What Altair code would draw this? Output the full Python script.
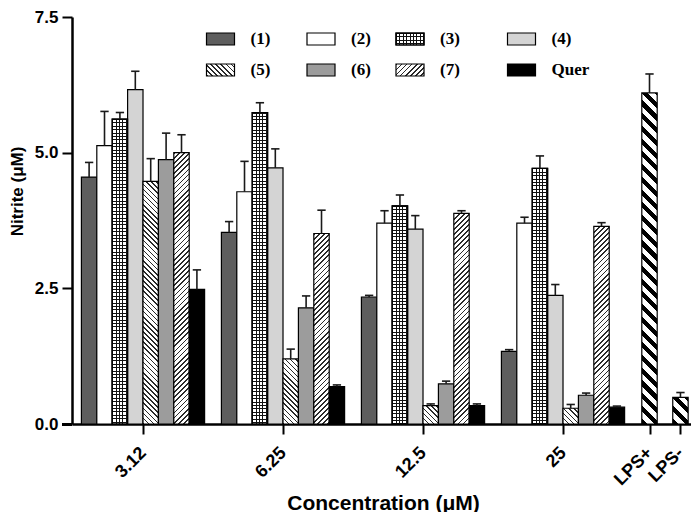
import math
import altair as alt

# ---------------- data ----------------
categories = ["3.12", "6.25", "12.5", "25"]
series_names = ["(1)", "(2)", "(3)", "(4)", "(5)", "(6)", "(7)", "Quer"]

c1 = [4.55, 3.53, 2.34, 1.34]
c1_err = [0.27, 0.20, 0.03, 0.03]
c2 = [5.13, 4.28, 3.70, 3.70]
c2_err = [0.63, 0.56, 0.23, 0.11]
c3 = [5.62, 5.74, 4.02, 4.71]
c3_err = [0.12, 0.18, 0.20, 0.23]
c4 = [6.16, 4.72, 3.59, 2.37]
c4_err = [0.34, 0.35, 0.25, 0.20]
c5 = [4.47, 1.20, 0.34, 0.29]
c5_err = [0.42, 0.18, 0.03, 0.07]
c6 = [4.87, 2.14, 0.74, 0.53]
c6_err = [0.49, 0.22, 0.05, 0.04]
c7 = [5.00, 3.51, 3.88, 3.64]
c7_err = [0.33, 0.43, 0.05, 0.07]
quer = [2.48, 0.69, 0.34, 0.31]
quer_err = [0.36, 0.03, 0.03, 0.02]

controls = ["LPS+", "LPS-"]
control_values = [6.10, 0.49]
control_err = [0.35, 0.09]

series_values = [c1, c2, c3, c4, c5, c6, c7, quer]
series_errors = [c1_err, c2_err, c3_err, c4_err, c5_err, c6_err, c7_err, quer_err]

# ---------------- layout / style ----------------
PAD_LEFT = 64
W, H = 683 - PAD_LEFT, 407
PAD_TOP = 9
BAR_PX = 15.4
Y_MAX = 7.5
PX_PER_VAL = H / Y_MAX
X_MAX = W / BAR_PX
GROUP_START = 4.611
GROUP_STEP = 9.091
CONTROL_POS = [37.50, 39.51]
CAP_HALF = 0.27
LEGEND_COL_PX = [148.5, 249, 338, 449.5]      # swatch centres, from plot left
LEGEND_ROW_PX = [39 - 8 - PAD_TOP, 70 - 8 - PAD_TOP]  # from plot top

SANS = "Liberation Sans"
SERIF = "Liberation Serif"

kinds = {"(1)": "#5e5e5e", "(2)": "#ffffff", "(3)": "checker", "(4)": "#d4d4d4",
         "(5)": "back", "(6)": "#9c9c9c", "(7)": "fwd", "Quer": "#000000"}
CLEAR = "rgba(255,255,255,0)"


def stripe_stops(total, period, line, ink, paper):
    stops = []
    k = 0
    while k * period < total:
        o0 = k * period / total
        o1 = min((k * period + line) / total, 1.0)
        o2 = min((k + 1) * period / total, 1.0)
        stops += [{"offset": round(o0, 5), "color": ink},
                  {"offset": round(o1, 5), "color": ink},
                  {"offset": round(o1, 5), "color": paper},
                  {"offset": round(o2, 5), "color": paper}]
        k += 1
    return stops


def diagonal(w, h, direction, period, line, ink):
    s = w + h
    n2 = w * w + h * h
    a = w * s / n2
    b = h * s / n2
    if direction == "fwd":
        x1, y1, x2, y2 = 0, 0, a, b
    else:
        x1, y1, x2, y2 = 0, 1, a, 1 - b
    D = s / math.sqrt(2)
    return {"gradient": "linear", "x1": x1, "y1": y1, "x2": round(x2, 5), "y2": round(y2, 5),
            "stops": stripe_stops(D, period, line, ink, "#ffffff")}


def make_fill(kind, w, h):
    """returns (base fill, overlay fill or transparent)"""
    if kind == "checker":
        base = {"gradient": "linear", "x1": 0, "y1": 0, "x2": 0, "y2": 1,
                "stops": stripe_stops(h, 3.4, 1.05, "#111111", "#ffffff")}
        over = {"gradient": "linear", "x1": 0, "y1": 0, "x2": 1, "y2": 0,
                "stops": stripe_stops(w, 3.4, 1.05, "#111111", CLEAR)}
        return base, over
    if kind == "back":
        return diagonal(w, h, "back", 3.6, 1.2, "#2a2a2a"), CLEAR
    if kind == "fwd":
        return diagonal(w, h, "fwd", 3.6, 1.2, "#2a2a2a"), CLEAR
    if kind == "lps":
        return diagonal(w, h, "back", 9.0, 4.3, "#000000"), CLEAR
    return kind, CLEAR


# ---------------- build table ----------------
rows = []
tick_pos = []
tick_lab = []
for g, cat in enumerate(categories):
    center = round(GROUP_START + GROUP_STEP * g, 3)
    tick_pos.append(center)
    tick_lab.append(cat)
    for i, name in enumerate(series_names):
        v = series_values[i][g]
        e = series_errors[i][g]
        left = center - 4 + i
        f, f2 = make_fill(kinds[name], BAR_PX, v * PX_PER_VAL)
        rows.append({"series": name, "x": left, "x2": left + 1, "cx": left + 0.5,
                     "cl": left + 0.5 - CAP_HALF, "cr": left + 0.5 + CAP_HALF,
                     "y": v, "top": v + e, "fill": f, "fill2": f2})
for j, name in enumerate(controls):
    center = CONTROL_POS[j]
    tick_pos.append(center)
    tick_lab.append(name)
    v = control_values[j]
    e = control_err[j]
    f, f2 = make_fill("lps", BAR_PX, v * PX_PER_VAL)
    rows.append({"series": name, "x": center - 0.5, "x2": center + 0.5, "cx": center,
                 "cl": center - CAP_HALF, "cr": center + CAP_HALF,
                 "y": v, "top": v + e, "fill": f, "fill2": f2})

data = alt.Data(values=rows)

label_expr = "[" + ",".join("'" + t + "'" for t in tick_lab) + "][indexof([" + \
    ",".join(repr(p) for p in tick_pos) + "], datum.value)]"

x_scale = alt.Scale(domain=[0, X_MAX], nice=False, zero=False)
y_scale = alt.Scale(domain=[0, Y_MAX], nice=False, zero=True)

x_axis = alt.Axis(values=tick_pos, labelExpr=label_expr, labelAngle=-45,
                  labelAlign="right", labelBaseline="middle", labelPadding=16,
                  labelOverlap=False, labelBound=False,
                  labelFont=SANS, labelFontWeight="bold", labelFontSize=18, labelColor="black",
                  tickSize=10, tickWidth=2, tickColor="black",
                  domainColor="black", domainWidth=2.5, grid=False,
                  title="Concentration (μM)", titleFont=SANS, titleFontWeight="bold",
                  titleFontSize=21, titleColor="black", titleBaseline="alphabetic",
                  titleY=85, titleX=311)
y_axis = alt.Axis(values=[0, 2.5, 5, 7.5], format=".1f",
                  labelFont=SANS, labelFontWeight="bold", labelFontSize=17, labelColor="black",
                  labelPadding=4, tickSize=10, tickWidth=2, tickColor="black",
                  domainColor="black", domainWidth=2.5, grid=False,
                  title="Nitrite (μM)", titleFont=SANS, titleFontWeight="bold",
                  titleFontSize=17, titleColor="black", titlePadding=8, titleY=174)

base = alt.Chart(data)

bars = base.mark_bar(stroke="black", strokeWidth=1.2).encode(
    x=alt.X("x:Q", scale=x_scale, axis=x_axis),
    x2="x2:Q",
    y=alt.Y("y:Q", scale=y_scale, axis=y_axis),
    y2=alt.datum(0),
    fill=alt.Fill("fill:N", scale=None),
)
overlay = base.mark_bar(stroke="black", strokeWidth=1.2).encode(
    x=alt.X("x:Q", scale=x_scale, axis=x_axis),
    x2="x2:Q",
    y=alt.Y("y:Q", scale=y_scale, axis=y_axis),
    y2=alt.datum(0),
    fill=alt.Fill("fill2:N", scale=None),
).transform_filter(alt.datum.series == "(3)")
stems = base.mark_rule(color="#1a1a1a", strokeWidth=1.6).encode(
    x=alt.X("cx:Q", scale=x_scale, axis=x_axis),
    y=alt.Y("y:Q", scale=y_scale, axis=y_axis),
    y2="top:Q",
)
caps = base.mark_rule(color="#1a1a1a", strokeWidth=1.6).encode(
    x=alt.X("cl:Q", scale=x_scale, axis=x_axis),
    x2="cr:Q",
    y=alt.Y("top:Q", scale=y_scale, axis=y_axis),
)
# short stub of the x-axis line reaching left of the y-axis (GraphPad style)
stub = base.mark_rule(color="black", strokeWidth=2.5).encode(
    x=alt.value(-10), x2=alt.value(0), y=alt.value(H + 0.5),
)

# ---------------- legend (same scales) ----------------
leg_rows = []
for i, name in enumerate(series_names):
    f, f2 = make_fill(kinds[name], 28, 12)
    leg_rows.append({"series": name,
                     "lx": LEGEND_COL_PX[i % 4] / BAR_PX,
                     "ly": Y_MAX - LEGEND_ROW_PX[i // 4] / PX_PER_VAL,
                     "fill": f, "fill2": f2})
leg_data = alt.Data(values=leg_rows)
SWATCH = "M-2,-0.857H2V0.857H-2Z"
leg_base = alt.Chart(leg_data)
leg_sw = leg_base.mark_point(shape=SWATCH, size=196, filled=True, stroke="black",
                             strokeWidth=1.2, opacity=1).encode(
    x=alt.X("lx:Q", scale=x_scale, axis=x_axis),
    y=alt.Y("ly:Q", scale=y_scale, axis=y_axis),
    fill=alt.Fill("fill:N", scale=None),
)
leg_over = leg_base.mark_point(shape=SWATCH, size=196, filled=True, stroke="black",
                               strokeWidth=1.2, opacity=1).encode(
    x=alt.X("lx:Q", scale=x_scale, axis=x_axis),
    y=alt.Y("ly:Q", scale=y_scale, axis=y_axis),
    fill=alt.Fill("fill2:N", scale=None),
).transform_filter(alt.datum.series == "(3)")
leg_text = leg_base.mark_text(align="left", baseline="middle", dx=30, font=SERIF,
                              fontWeight="bold", fontSize=17, color="black").encode(
    x=alt.X("lx:Q", scale=x_scale, axis=x_axis),
    y=alt.Y("ly:Q", scale=y_scale, axis=y_axis),
    text="series:N",
)

chart = alt.layer(bars, overlay, stems, caps, stub, leg_sw, leg_over, leg_text).properties(
    width=W, height=H,
    autosize=alt.AutoSizeParams(type="none"),
    padding={"left": PAD_LEFT, "top": PAD_TOP, "right": 0, "bottom": 504 - PAD_TOP - H},
    background="white",
).configure_view(stroke=None)

chart.save("out.html", embed_options={"renderer": "svg", "actions": False})
